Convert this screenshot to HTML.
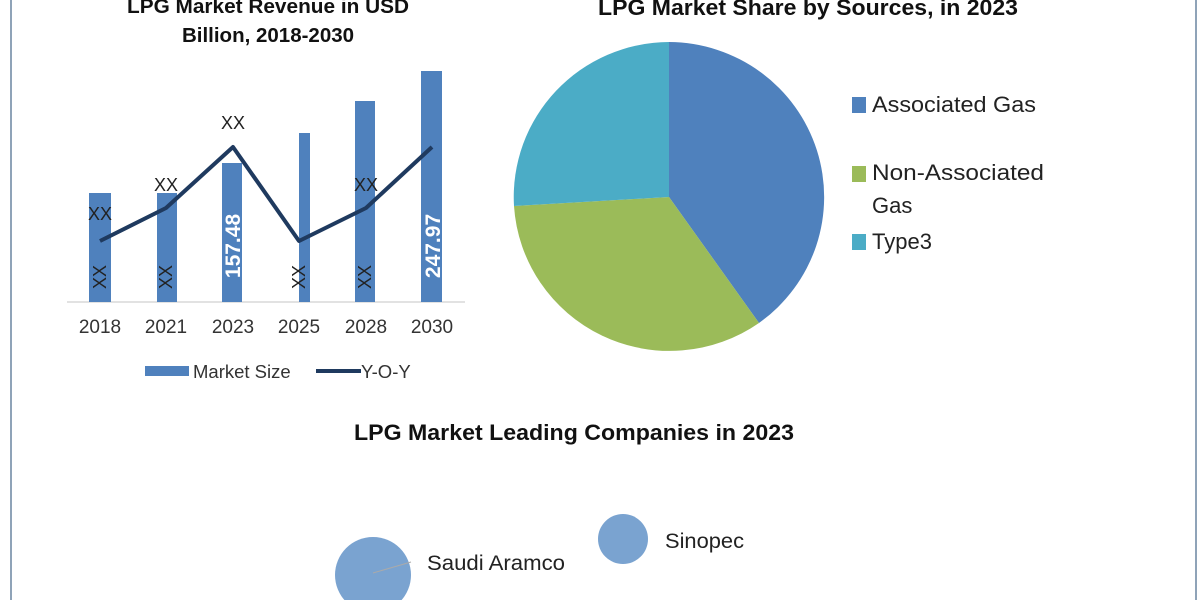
<!DOCTYPE html>
<html><head><meta charset="utf-8"><style>
body{margin:0;background:#fff;width:1200px;height:600px;overflow:hidden;font-family:"Liberation Sans",sans-serif}
</style></head><body>
<svg width="1200" height="600" xmlns="http://www.w3.org/2000/svg" style="position:absolute;left:0;top:0">
<line x1="11" y1="0" x2="11" y2="600" stroke="#8fa3b8" stroke-width="2"/>
<line x1="1196" y1="0" x2="1196" y2="600" stroke="#8fa3b8" stroke-width="2"/>
<g font-family="Liberation Sans, sans-serif" font-weight="bold" fill="#111" text-anchor="middle">
<text x="268" y="13" font-size="20.5" textLength="282" lengthAdjust="spacingAndGlyphs">LPG Market Revenue in USD</text>
<text x="268" y="42" font-size="20.5">Billion, 2018-2030</text>
<text x="808" y="15" font-size="22" textLength="420" lengthAdjust="spacingAndGlyphs">LPG Market Share by Sources, in 2023</text>
<text x="574" y="440" font-size="22" textLength="440" lengthAdjust="spacingAndGlyphs">LPG Market Leading Companies in 2023</text>
</g>
<line x1="67" y1="302" x2="465" y2="302" stroke="#d9d9d9" stroke-width="1.5"/>
<g fill="#4f81bd">
<rect x="89" y="193" width="22" height="109"/>
<rect x="157" y="193" width="20" height="109"/>
<rect x="222" y="163" width="20" height="139"/>
<rect x="299" y="133" width="11" height="169"/>
<rect x="355" y="101" width="20" height="201"/>
<rect x="421" y="71" width="21" height="231"/>
</g>
<polyline points="100,241 166,208 233,147 299,241 366,208 432,147" fill="none" stroke="#1f3a5f" stroke-width="4" stroke-linejoin="round"/>
<g font-size="18" fill="#222" text-anchor="middle">
<text x="100" y="220">XX</text><text x="166" y="191">XX</text><text x="233" y="129">XX</text><text x="366" y="191">XX</text>
</g>
<g font-size="18" fill="#222" text-anchor="middle">
<text transform="translate(106,277) rotate(-90)">XX</text>
<text transform="translate(172,277) rotate(-90)">XX</text>
<text transform="translate(305,277) rotate(-90)">XX</text>
<text transform="translate(371,277) rotate(-90)">XX</text>
</g>
<g font-size="21" font-weight="bold" fill="#fff" text-anchor="middle">
<text transform="translate(240,246) rotate(-90)">157.48</text>
<text transform="translate(440,246) rotate(-90)">247.97</text>
</g>
<g font-size="19" fill="#333" text-anchor="middle">
<text x="100" y="333">2018</text><text x="166" y="333">2021</text><text x="233" y="333">2023</text><text x="299" y="333">2025</text><text x="366" y="333">2028</text><text x="432" y="333">2030</text>
</g>
<rect x="145" y="366" width="44" height="10" fill="#4f81bd"/>
<text x="193" y="378" font-size="18.5" fill="#333">Market Size</text>
<line x1="316" y1="371" x2="361" y2="371" stroke="#1f3a5f" stroke-width="4"/>
<text x="361" y="378" font-size="18.5" fill="#333">Y-O-Y</text>
<path d="M669,197 L669,42 A156,155 0 0 1 759,323 Z" fill="#4f81bd"/>
<path d="M669,197 L759,323 A156,155 0 0 1 514,206 Z" fill="#9bbb59"/>
<path d="M669,197 L514,206 A156,155 0 0 1 669,42 Z" fill="#4bacc6"/>
<g font-size="22" fill="#222">
<rect x="852" y="97" width="14" height="16" fill="#4f81bd"/><text x="872" y="112" textLength="164" lengthAdjust="spacingAndGlyphs">Associated Gas</text>
<rect x="852" y="166" width="14" height="16" fill="#9bbb59"/><text x="872" y="180" textLength="172" lengthAdjust="spacingAndGlyphs">Non-Associated</text>
<text x="872" y="213">Gas</text>
<rect x="852" y="234" width="14" height="16" fill="#4bacc6"/><text x="872" y="249">Type3</text>
</g>
<ellipse cx="623" cy="539" rx="25" ry="25" fill="#7aa3d0"/>
<text x="665" y="548" font-size="21" fill="#222" textLength="79" lengthAdjust="spacingAndGlyphs">Sinopec</text>
<circle cx="373" cy="575" r="38" fill="#7aa3d0"/>
<line x1="373" y1="573" x2="411" y2="562" stroke="#aaa" stroke-width="1"/>
<text x="427" y="570" font-size="21" fill="#222" textLength="138" lengthAdjust="spacingAndGlyphs">Saudi Aramco</text>
</svg>
</body></html>
